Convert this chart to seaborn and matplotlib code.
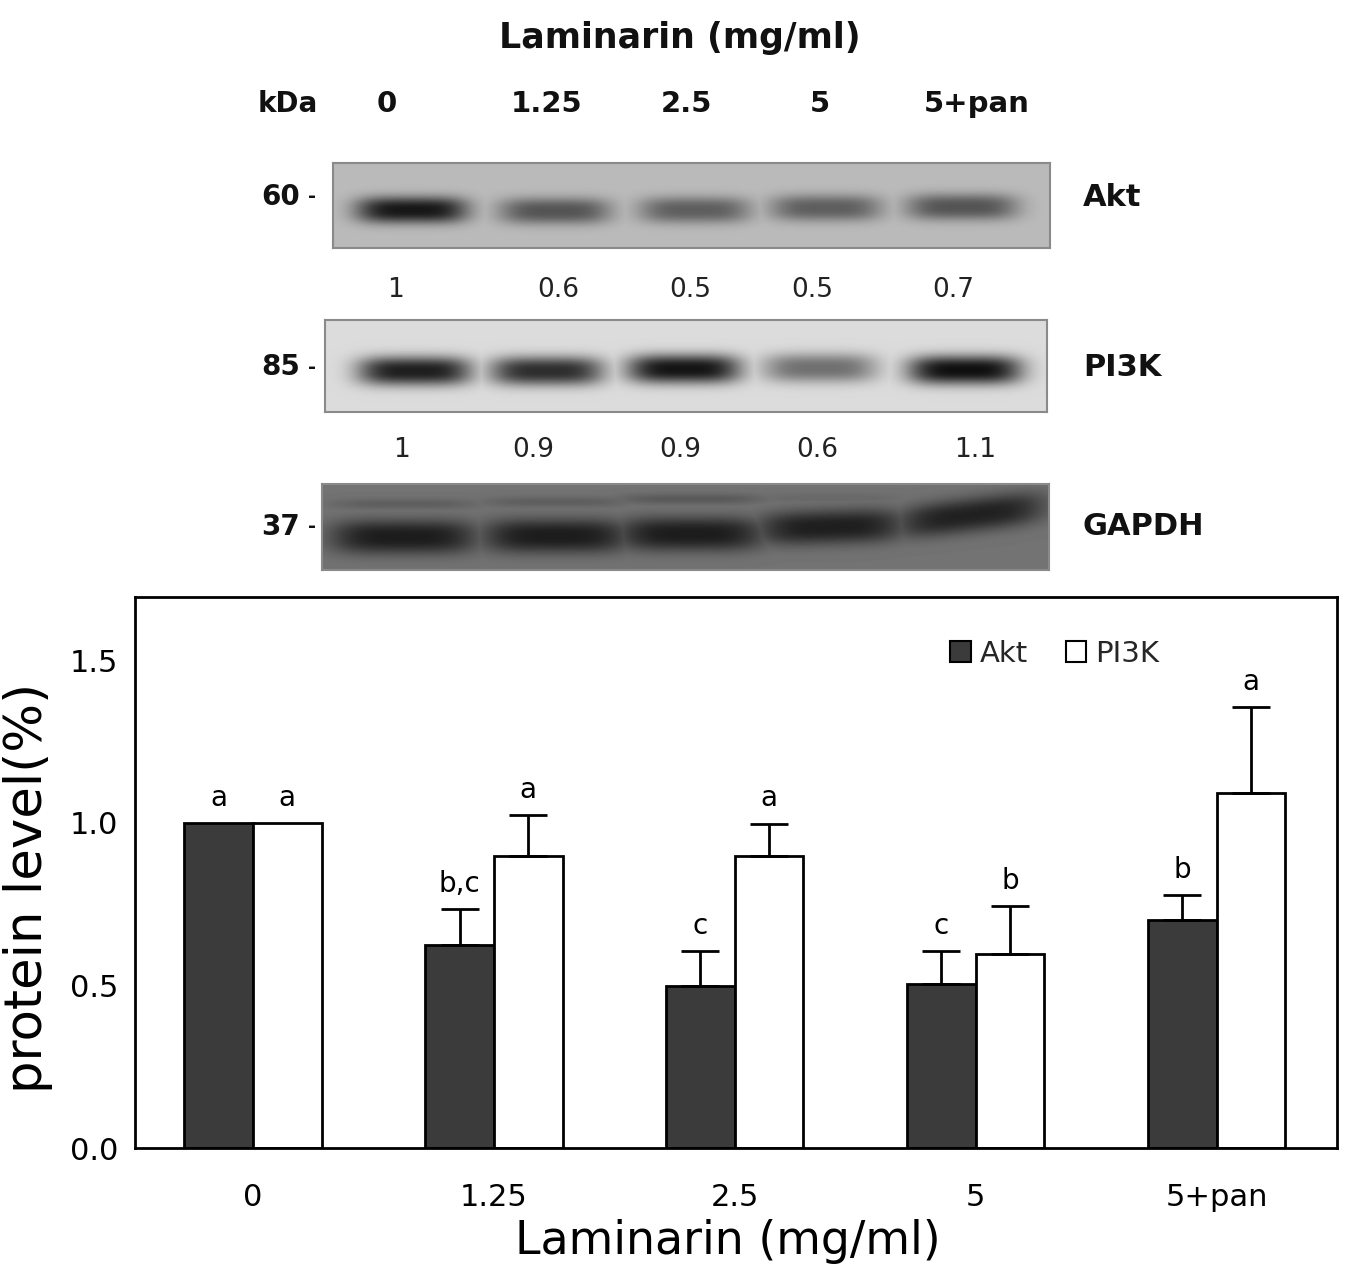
import numpy as np
import pandas as pd
import matplotlib
matplotlib.use("Agg")
import matplotlib.pyplot as plt
from matplotlib.patches import Patch
import seaborn as sns

# ---------------- data ----------------
doses = ["0", "1.25", "2.5", "5", "5+pan"]
akt_level = [1.0, 0.625, 0.497, 0.505, 0.70]
pi3k_level = [1.0, 0.898, 0.898, 0.598, 1.092]
akt_err = [0.0, 0.11, 0.11, 0.10, 0.077]
pi3k_err = [0.0, 0.126, 0.10, 0.146, 0.265]
akt_letters = ["a", "b,c", "c", "c", "b"]
pi3k_letters = ["a", "a", "a", "b", "a"]
yticks = [0.0, 0.5, 1.0, 1.5]

blot_lanes = ["0", "1.25", "2.5", "5", "5+pan"]
akt_ratio = ["1", "0.6", "0.5", "0.5", "0.7"]
pi3k_ratio = ["1", "0.9", "0.9", "0.6", "1.1"]
kda = ["60", "85", "37"]
blot_names = ["Akt", "PI3K", "GAPDH"]
akt_band = [0.64, 0.40, 0.36, 0.36, 0.40]
pi3k_band = [0.74, 0.68, 0.78, 0.42, 0.80]
gapdh_band = [0.34, 0.34, 0.34, 0.33, 0.32]
gapdh_upper = [0.08, 0.08, 0.10, 0.04, 0.0]

# ---------------- figure ----------------
W, H = 1356, 1271
sns.set_style("white")
plt.rcParams["font.family"] = ["DejaVu Sans"]
fig = plt.figure(figsize=(W / 100, H / 100), dpi=100)


def fx(x):
    return x / W


def fy(y):
    return 1 - y / H


# ---------------- bar chart ----------------
ax = fig.add_axes([135 / W, 1 - 1148 / H, 1202 / W, 551 / H])
df = pd.DataFrame({
    "dose": doses * 2,
    "protein": ["Akt"] * len(doses) + ["PI3K"] * len(doses),
    "level": akt_level + pi3k_level,
})
sns.barplot(data=df, x="dose", y="level", hue="protein", order=doses,
            hue_order=["Akt", "PI3K"],
            palette={"Akt": "#3b3b3b", "PI3K": "white"}, saturation=1,
            width=0.57, edgecolor="black", linewidth=2, errorbar=None,
            legend=False, ax=ax)

for container, errs, letters in zip(ax.containers, [akt_err, pi3k_err],
                                    [akt_letters, pi3k_letters]):
    for bar, e, lab in zip(container, errs, letters):
        xc = bar.get_x() + bar.get_width() / 2
        top = bar.get_height()
        if e > 0:
            ax.errorbar(xc, top, yerr=[[0], [e]], fmt="none", ecolor="black",
                        elinewidth=2, capsize=13.5, capthick=2, zorder=3)
        ax.annotate(lab, (xc, top + e), xytext=(0, 8),
                    textcoords="offset points", ha="center", va="bottom",
                    fontsize=20, color="black")

ax.set_xlim(-0.49, 4.5)
ax.set_ylim(0, 1.695)
ax.set_yticks(yticks)
ax.set_yticklabels([f"{t:.1f}" for t in yticks])
ax.tick_params(axis="y", direction="in", length=10, width=2, labelsize=22,
               pad=12, colors="black")
ax.tick_params(axis="x", length=0, labelsize=22, pad=25, colors="black")
for sp in ax.spines.values():
    sp.set_visible(True)
    sp.set_linewidth(2)
    sp.set_color("black")
ax.set_ylabel("protein level(%)", fontsize=37, color="black")
ax.yaxis.set_label_coords(-0.068, 0.472)
ax.set_xlabel("Laminarin (mg/ml)", fontsize=33, color="black")
ax.xaxis.set_label_coords(0.493, -0.128)

handles = [Patch(facecolor="#3b3b3b", edgecolor="black", linewidth=1.5),
           Patch(facecolor="white", edgecolor="black", linewidth=1.5)]
ax.legend(handles, ["Akt", "PI3K"], ncol=2, frameon=False, fontsize=21,
          handlelength=0.7, handleheight=0.7, handletextpad=0.3,
          columnspacing=1.3, loc="center", bbox_to_anchor=(0.765, 0.897))


# ---------------- western blot panel ----------------
def draw_blot(rect, bg, centers, ycs, strengths, sx, sy, tilts=None,
              extra=None):
    x0, y0, x1, y1 = rect
    w, h = x1 - x0, y1 - y0
    axb = fig.add_axes([x0 / W, 1 - y1 / H, w / W, h / H])
    X, Y = np.meshgrid(np.arange(w) + 0.5, np.arange(h) + 0.5)
    img = np.full((h, w), bg, dtype=float)
    if tilts is None:
        tilts = [0.0] * len(centers)
    dark = np.zeros_like(img)
    for c, yc, s, t in zip(centers, ycs, strengths, tilts):
        yy = yc + t * (X - c)
        prof = (np.exp(-0.5 * np.abs((X - c) / sx) ** 4)
                * np.exp(-0.5 * np.abs((Y - yy) / sy) ** 2.5))
        dark = np.maximum(dark, s * prof)
    if extra is not None:
        for c, yc, s in zip(*extra):
            prof = (np.exp(-0.5 * np.abs((X - c) / sx) ** 4)
                    * np.exp(-0.5 * ((Y - yc) / 4) ** 2))
            dark = np.maximum(dark, s * prof)
    img = np.clip(img - dark, 0.04, 1)
    axb.imshow(img, cmap="gray", vmin=0, vmax=1, extent=(0, w, h, 0),
               aspect="auto", interpolation="bilinear")
    axb.set_xticks([])
    axb.set_yticks([])
    for sp in axb.spines.values():
        sp.set_color("#8a8a8a")
        sp.set_linewidth(1.5)
    return axb


# Akt
draw_blot((333, 163, 1050, 248), 0.73, [79, 222, 362, 493, 629],
          [47, 48, 47, 45, 44], akt_band, 47, 10)
# PI3K
draw_blot((325, 320, 1047, 412), 0.86, [90, 222, 359, 495, 640],
          [51, 51, 49, 48, 50], pi3k_band, 48, 11)
# GAPDH
draw_blot((322, 484, 1049, 570), 0.45, [82, 234, 369, 509, 649],
          [53, 52, 50, 43, 31], gapdh_band, 62, 13,
          tilts=[0, 0, 0, -0.03, -0.12],
          extra=([82, 234, 369, 509, 649], [20, 18, 15, 14, 14], gapdh_upper))

bold = dict(fontweight="bold", color="#111111")
fig.text(fx(680), fy(48), "Laminarin (mg/ml)", ha="center", va="baseline",
         fontsize=25, **bold)
fig.text(fx(288), fy(112), "kDa", ha="center", va="baseline", fontsize=20, **bold)
for lab, x in zip(blot_lanes, [387, 547, 686, 820, 977]):
    fig.text(fx(x), fy(112), lab, ha="center", va="baseline", fontsize=21, **bold)

for k, y in zip(kda, [197, 367, 527]):
    fig.text(fx(300), fy(y), k, ha="right", va="center", fontsize=20, **bold)
    fig.text(fx(312), fy(y), "-", ha="center", va="center", fontsize=14, **bold)
for name, y in zip(blot_names, [197, 367, 527]):
    fig.text(fx(1083), fy(y), name, ha="left", va="center", fontsize=22, **bold)

for lab, x in zip(akt_ratio, [395, 558, 690, 812, 953]):
    fig.text(fx(x), fy(290), lab, ha="center", va="center", fontsize=19,
             color="#222222")
for lab, x in zip(pi3k_ratio, [402, 533, 680, 817, 975]):
    fig.text(fx(x), fy(450), lab, ha="center", va="center", fontsize=19,
             color="#222222")

fig.savefig("out.png", dpi=100)
